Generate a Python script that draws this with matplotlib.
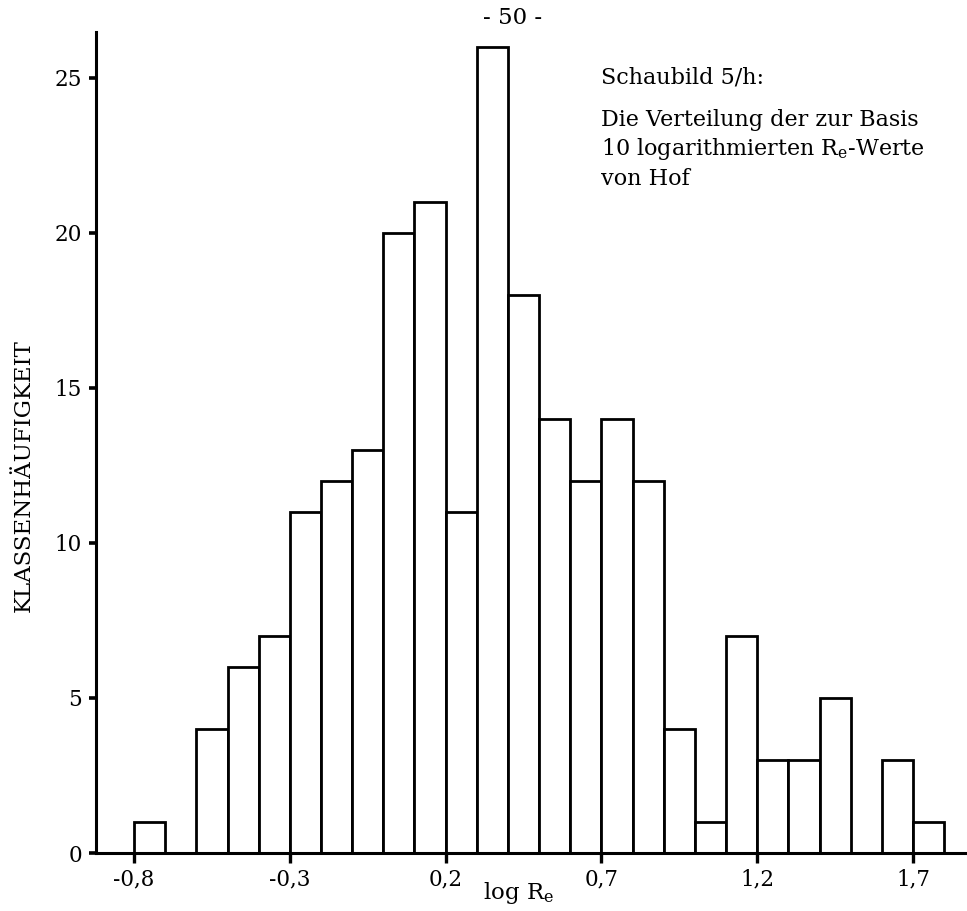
import matplotlib
matplotlib.use("Agg")
import matplotlib.pyplot as plt

plt.rcParams['font.family'] = ['DejaVu Serif']
plt.rcParams['mathtext.fontset'] = 'dejavuserif'

# Data: class intervals (left edges, width 0.1) of log10 R_e and class frequencies
bin_lefts = [-0.8, -0.7, -0.6, -0.5, -0.4, -0.3, -0.2, -0.1, 0.0, 0.1, 0.2, 0.3, 0.4,
             0.5, 0.6, 0.7, 0.8, 0.9, 1.0, 1.1, 1.2, 1.3, 1.4, 1.5, 1.6, 1.7]
counts = [1, 0, 4, 6, 7, 11, 12, 13, 20, 21, 11, 26, 18,
          14, 12, 14, 12, 4, 1, 7, 3, 3, 5, 0, 3, 1]
bin_width = 0.1

x_ticks = [-0.8, -0.3, 0.2, 0.7, 1.2, 1.7]
x_ticklabels = ["-0,8", "-0,3", "0,2", "0,7", "1,2", "1,7"]
y_ticks = [0, 5, 10, 15, 20, 25]
y_ticklabels = ["0", "5", "10", "15", "20", "25"]

W, H = 967, 911
fig = plt.figure(figsize=(W / 100, H / 100), dpi=100)
ax_left, ax_right, ax_bottom, ax_top = 96, 967, 853, 32
ax = fig.add_axes([ax_left / W, (H - ax_bottom) / H,
                   (ax_right - ax_left) / W, (ax_bottom - ax_top) / H])

ax.bar(bin_lefts, counts, width=bin_width, align='edge', facecolor='white',
       edgecolor='black', linewidth=2.0, clip_on=False, zorder=2)

ax.set_xlim(-0.922, 1.873)
ax.set_ylim(0, 26.48)

for side in ['top', 'right']:
    ax.spines[side].set_visible(False)
for side in ['left', 'bottom']:
    ax.spines[side].set_linewidth(2.2)
    ax.spines[side].set_zorder(3)

ax.set_xticks(x_ticks)
ax.set_xticklabels(x_ticklabels, fontsize=15.5)
ax.set_yticks(y_ticks)
ax.set_yticklabels(y_ticklabels, fontsize=15.5)
ax.tick_params(axis='x', direction='out', length=7, width=2.4, pad=4)
ax.tick_params(axis='y', direction='out', length=5, width=2.6, pad=5)

ax.set_ylabel("KLASSENHÄUFIGKEIT", fontsize=16.5)
ax.yaxis.set_label_coords(-0.07, 0.46)

fig.text(519 / W, 1 - 893 / H, r"log R$_\mathrm{e}$", fontsize=16.5,
         ha='center', va='center')

fig.text(513 / W, 1 - 18 / H, "- 50 -", fontsize=16.5, ha='center', va='center')

fig.text(601 / W, 1 - 77 / H, "Schaubild 5/h:", fontsize=16, ha='left', va='center')
fig.text(601 / W, 1 - 120 / H, "Die Verteilung der zur Basis", fontsize=16,
         ha='left', va='center')
fig.text(601 / W, 1 - 149 / H, r"10 logarithmierten R$_\mathrm{e}$-Werte", fontsize=16,
         ha='left', va='center')
fig.text(601 / W, 1 - 179 / H, "von Hof", fontsize=16, ha='left', va='center')

fig.savefig("out.png", dpi=100, facecolor='white')
